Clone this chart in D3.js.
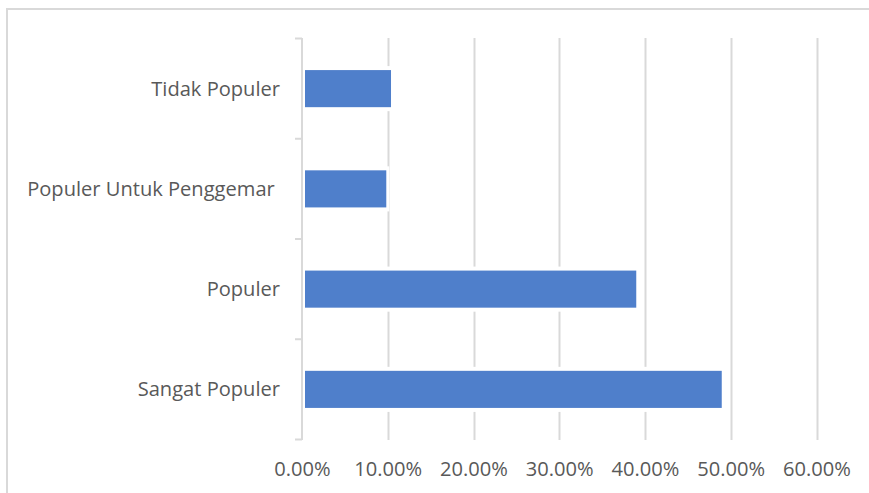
<!DOCTYPE html>
<html>
<head>
<meta charset="utf-8">
<script src="https://cdn.jsdelivr.net/npm/d3@7"></script>
<style>
  html, body { margin: 0; padding: 0; background: #ffffff; }
  svg { display: block; }
  text { font-family: "Open Sans", "Noto Sans", sans-serif; fill: #595959; white-space: pre; }
</style>
</head>
<body>
<svg id="chart" width="869" height="493"></svg>
<script>
// Data (top to bottom)
const categories = ["Tidak Populer", "Populer Untuk Penggemar ", "Populer", "Sangat Populer"];
const values = [0.1038, 0.0983, 0.3898, 0.4895];
const tickValues = [0, 0.1, 0.2, 0.3, 0.4, 0.5, 0.6];
const tickLabels = ["0.00%", "10.00%", "20.00%", "30.00%", "40.00%", "50.00%", "60.00%"];

const svg = d3.select("#chart");
const W = 869, H = 493;

// chart area border (top and left light strokes)
svg.append("line").attr("x1", 6).attr("x2", W).attr("y1", 9).attr("y2", 9)
  .attr("stroke", "#d9d9d9").attr("stroke-width", 2);
svg.append("line").attr("x1", 7).attr("x2", 7).attr("y1", 8).attr("y2", H)
  .attr("stroke", "#d9d9d9").attr("stroke-width", 2);

const x = d3.scaleLinear().domain([0, 0.6]).range([302, 816.5]);
const y = d3.scaleBand().domain(categories).range([38.5, 439.5]).paddingInner(0.63).paddingOuter(0.315);
const yb = d3.scaleBand().domain(categories).range([38.5, 439.5]);

// vertical gridlines
svg.append("g").selectAll("line").data(tickValues.slice(1)).join("line")
  .attr("x1", d => Math.round(x(d)) + 0.5).attr("x2", d => Math.round(x(d)) + 0.5)
  .attr("y1", 38).attr("y2", 440)
  .attr("stroke", "#d9d9d9").attr("stroke-width", 2);

// white halo behind bars
svg.append("g").selectAll("rect").data(values).join("rect")
  .attr("x", x(0) + 1)
  .attr("y", (d, i) => y(categories[i]) - 4)
  .attr("width", d => x(d) - x(0) + 2)
  .attr("height", y.bandwidth() + 8)
  .attr("fill", "#ffffff");

// bars
svg.append("g").selectAll("rect").data(values).join("rect")
  .attr("x", x(0) + 3)
  .attr("y", (d, i) => y(categories[i]))
  .attr("width", d => x(d) - x(0) - 3)
  .attr("height", y.bandwidth())
  .attr("fill", "#4f7fcb");

// category axis (left)
const ga = svg.append("g").attr("transform", "translate(302,0)");
ga.append("line").attr("x1", 0).attr("x2", 0).attr("y1", 38).attr("y2", 440)
  .attr("stroke", "#d9d9d9").attr("stroke-width", 2);
// boundary tick marks
const bounds = categories.map(c => yb(c)).concat([yb.range()[1]]);
ga.selectAll("line.tk").data(bounds).join("line").attr("class", "tk")
  .attr("x1", -7).attr("x2", 0).attr("y1", d => d).attr("y2", d => d)
  .attr("stroke", "#d9d9d9").attr("stroke-width", 2);

// category labels
svg.append("g").selectAll("text").data(categories).join("text")
  .attr("x", 280)
  .attr("y", d => yb(d) + yb.bandwidth() / 2)
  .attr("dy", "0.35em")
  .attr("text-anchor", "end")
  .attr("font-size", 20.1)
  .text(d => d);

// x tick labels
const xAxis = d3.axisBottom(x).tickValues(tickValues).tickSize(0)
  .tickFormat((d, i) => tickLabels[i]);
const gx = svg.append("g").attr("transform", "translate(0,458.5)").call(xAxis);
gx.select(".domain").remove();
gx.selectAll("text").attr("font-size", 20.1).attr("fill", "#595959")
  .attr("font-family", "'Open Sans', sans-serif").attr("dy", "0.71em");
</script>
</body>
</html>
